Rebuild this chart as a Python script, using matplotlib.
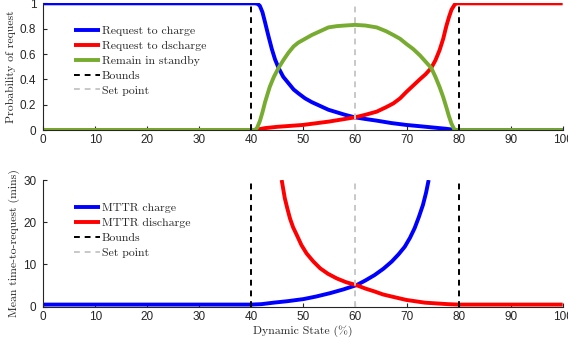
import matplotlib

matplotlib.use("Agg")
import matplotlib.pyplot as plt

plt.rcParams.update(
    {
        "font.family": "sans-serif",
        "font.sans-serif": ["Liberation Sans", "DejaVu Sans"],
        "font.size": 8.5,
    }
)

# ---- data ----
bounds = [40, 80]
set_point = 60

# top panel: probability of request
x_charge = [0, 40.8, 41.3, 41.7, 42.2, 42.7, 43.3, 44.0, 44.6, 45.3, 46.2, 47.2, 48.2, 49.1,
            50.4, 51.7, 53.3, 54.9, 56.5, 58.1, 60, 62, 64.2, 67, 69.9, 72.5, 75, 77.5, 79.5, 100]
p_charge = [1, 1, 0.995, 0.98, 0.93, 0.85, 0.75, 0.64, 0.56, 0.49, 0.42, 0.37, 0.32, 0.29,
            0.25, 0.22, 0.19, 0.16, 0.14, 0.12, 0.10, 0.087, 0.074, 0.055, 0.04, 0.03, 0.02, 0.01, 0, 0]

x_dis = [0, 40.8, 42.7, 45, 50, 54.9, 60, 62, 64.2, 66, 67.4, 68.7, 69.9, 71.2, 72.5, 73.6,
         74.7, 75.5, 76.3, 77.0, 77.6, 78.1, 78.6, 79.2, 79.6, 100]
p_dis = [0, 0, 0.015, 0.025, 0.04, 0.066, 0.10, 0.12, 0.145, 0.18, 0.21, 0.25, 0.30, 0.35,
         0.40, 0.44, 0.49, 0.55, 0.63, 0.72, 0.82, 0.89, 0.95, 0.99, 1.0, 1.0]

x_stand = [0, 40.8, 41.2, 41.7, 42.2, 42.7, 43.6, 44.4, 45.3, 46.2, 47.2, 48.2, 49.1, 50.4,
           51.7, 53.3, 54.9, 56.5, 58.1, 60, 62, 64.2, 66, 67.4, 68.7, 69.9, 71.2, 72.5, 73.6,
           74.7, 75.5, 76.3, 77.0, 77.6, 78.1, 78.6, 79.2, 100]
p_stand = [0, 0, 0.02, 0.07, 0.14, 0.22, 0.34, 0.42, 0.49, 0.55, 0.61, 0.66, 0.69, 0.72,
           0.75, 0.78, 0.81, 0.82, 0.825, 0.83, 0.825, 0.81, 0.78, 0.75, 0.72, 0.68, 0.64, 0.59,
           0.54, 0.49, 0.42, 0.34, 0.26, 0.18, 0.11, 0.05, 0, 0]

# bottom panel: mean time-to-request (mins)
x_mttr_c = [0, 40, 42, 44.3, 47, 50.1, 52.5, 55.2, 57.8, 60.3, 62, 63.8, 65.5, 67.1, 68.4,
            69.6, 70.6, 71.5, 72.3, 73.1, 73.7, 74.2]
mttr_c = [0.5, 0.5, 0.6, 0.95, 1.3, 1.8, 2.4, 3.2, 4.1, 5.1, 6.2, 7.5, 9.0, 10.7, 12.4,
          14.2, 16.3, 18.6, 21.2, 24.1, 27, 30]

x_mttr_d = [45.9, 46.5, 47.0, 47.5, 48.1, 48.8, 49.7, 50.7, 52.0, 53.3, 54.8, 56.5, 58.3,
            60.3, 62, 63.8, 65.4, 67.1, 69.9, 73.5, 77.9, 80, 100]
mttr_d = [30, 25.7, 23.2, 20.9, 18.8, 17.0, 14.6, 12.6, 10.7, 9.1, 7.8, 6.7, 5.8,
          5.1, 4.3, 3.6, 2.9, 2.4, 1.6, 0.95, 0.6, 0.5, 0.5]

BLUE, RED, GREEN = "#0000FF", "#FF0000", "#77AC30"
AXC = "#262626"
SERIF = "cmr10"
LW = 2.8


def style(ax, ylim, yticks, yticklabels):
    ax.set_xlim(0, 100)
    ax.set_ylim(*ylim)
    ax.set_xticks(range(0, 101, 10))
    ax.set_yticks(yticks)
    ax.set_yticklabels(yticklabels)
    for s in ("top", "right"):
        ax.spines[s].set_visible(False)
    for s in ("left", "bottom"):
        ax.spines[s].set_color(AXC)
        ax.spines[s].set_linewidth(0.8)
    ax.tick_params(direction="in", length=3, width=0.8, colors=AXC, labelsize=8.5)
    ax.tick_params(axis="x", pad=3)
    ax.tick_params(axis="y", pad=5)


def guides(ax, top):
    for b in bounds:
        ax.plot([b, b], [0, top], color="black", ls=(0, (3, 2.5)), lw=1.4,
                label="Bounds" if b == bounds[0] else None, zorder=4)
    ax.plot([set_point, set_point], [0, top], color="#C8C8C8", ls=(0, (3, 2.5)), lw=1.4,
            label="Set point", zorder=4)


fig = plt.figure(figsize=(5.68, 3.48), dpi=100)
ax1 = fig.add_axes([0.0762, 0.6264, 0.9144, 0.364])
ax2 = fig.add_axes([0.0762, 0.1187, 0.9144, 0.364])

ax1.plot(x_charge, p_charge, color=BLUE, lw=LW, label="Request to charge", solid_capstyle="butt")
ax1.plot(x_dis, p_dis, color=RED, lw=LW, label="Request to dscharge", solid_capstyle="butt")
ax1.plot(x_stand, p_stand, color=GREEN, lw=LW, label="Remain in standby", solid_capstyle="butt")
guides(ax1, 1)
style(ax1, (0, 1), [0, 0.2, 0.4, 0.6, 0.8, 1], ["0", "0.2", "0.4", "0.6", "0.8", "1"])
ax1.set_ylabel("Probability of request", family=SERIF, fontsize=8.5, color=AXC, labelpad=2.5)

ax2.plot(x_mttr_c, mttr_c, color=BLUE, lw=LW, label="MTTR charge", solid_capstyle="butt")
ax2.plot(x_mttr_d, mttr_d, color=RED, lw=LW, label="MTTR discharge", solid_capstyle="butt")
guides(ax2, 30)
style(ax2, (0, 30), [0, 10, 20, 30], ["0", "10", "20", "30"])
ax2.set_ylabel("Mean time-to-request (mins)", family=SERIF, fontsize=8.5, color=AXC, labelpad=2.5)
ax2.set_xlabel("Dynamic State (%)", family=SERIF, fontsize=8.5, color=AXC, labelpad=2)

for ax, y0 in ((ax1, 0.822), (ax2, 0.818)):
    leg = ax.legend(loc="upper left", bbox_to_anchor=(0.059, y0), frameon=False,
                    prop={"family": SERIF, "size": 8.5}, handlelength=2.2, handletextpad=0.15,
                    labelspacing=0.39, borderpad=0, borderaxespad=0)
    for t in leg.get_texts():
        t.set_color(AXC)

fig.savefig("out.png", dpi=100, facecolor="white")
